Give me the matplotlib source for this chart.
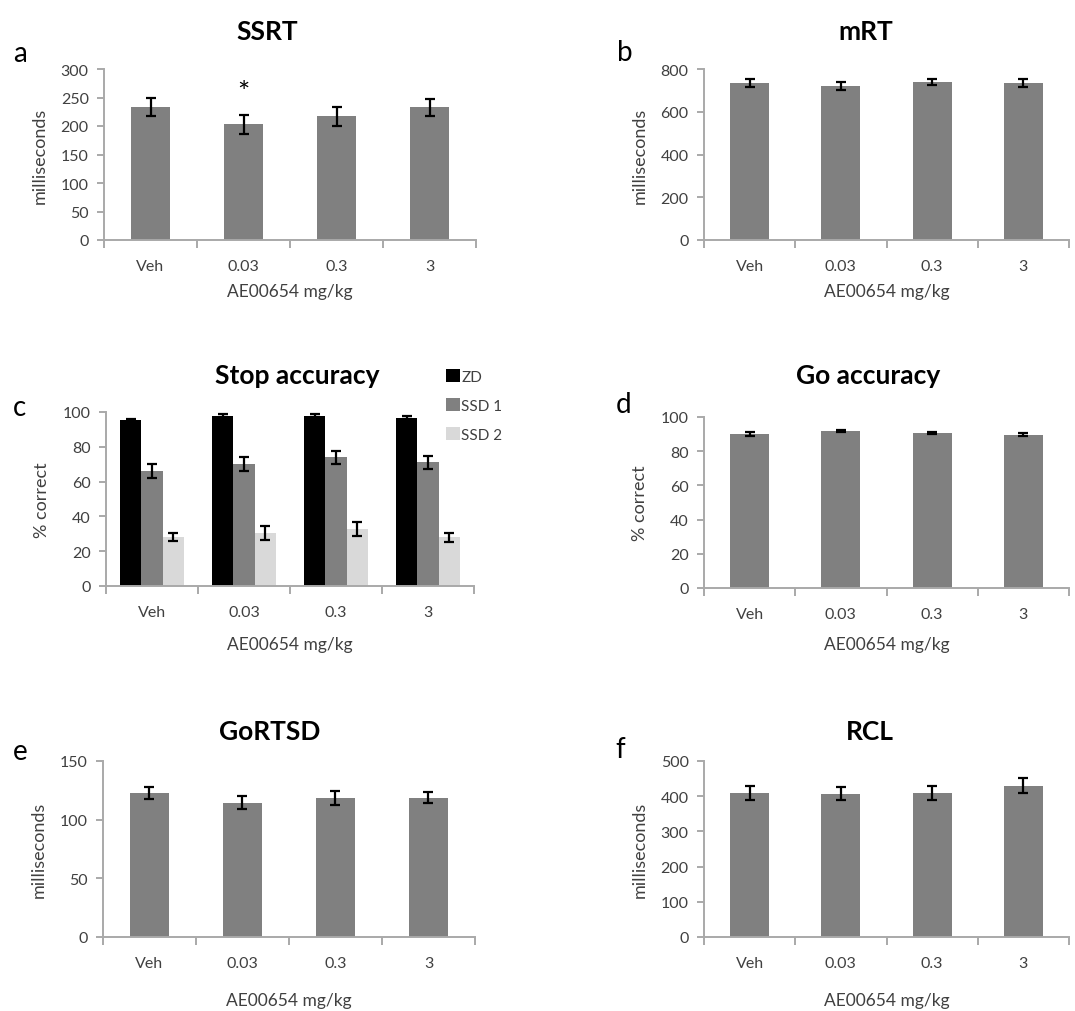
import matplotlib
matplotlib.use("Agg")
import matplotlib.pyplot as plt
from matplotlib.patches import Patch
import numpy as np

plt.rcParams['font.family'] = ['Lato', 'DejaVu Sans']

# Doses of AE00654 (mg/kg)
doses = ["Veh", "0.03", "0.3", "3"]
xlabel_text = "AE00654 mg/kg"

# a: stop-signal reaction time (ms)
ssrt_mean = [234, 203, 217, 233]
ssrt_sem = [16, 17, 17, 15]

# b: mean go reaction time (ms)
mrt_mean = [734, 720, 739, 734]
mrt_sem = [18, 20, 15, 18]

# c: stop accuracy (% correct) by stop-signal delay
stop_zd_mean = [95.2, 97.9, 97.9, 96.7]
stop_zd_sem = [1.0, 1.0, 1.0, 0.8]
stop_ssd1_mean = [66.0, 70.0, 74.0, 71.0]
stop_ssd1_sem = [4.0, 4.0, 3.8, 3.6]
stop_ssd2_mean = [28.0, 30.5, 32.5, 28.0]
stop_ssd2_sem = [2.2, 3.8, 4.0, 2.5]
stop_labels = ["ZD", "SSD 1", "SSD 2"]

# d: go accuracy (% correct)
go_mean = [90.1, 92.0, 90.5, 89.7]
go_sem = [1.0, 0.6, 0.7, 0.8]

# e: go reaction time standard deviation (ms)
gortsd_mean = [122.5, 114.5, 118.8, 118.8]
gortsd_sem = [5.0, 5.5, 6.0, 5.0]

# f: RCL (ms)
rcl_mean = [409, 407, 409, 430]
rcl_sem = [19, 18, 20, 21]

W, H = 1075, 1012
BAR_GREY = "#808080"
AXIS_GREY = "#a9a9a9"
TXT = "#404040"

fig = plt.figure(figsize=(W / 100, H / 100), dpi=100)


def make_axes(left, right, top, bottom):
    return fig.add_axes([left / W, 1 - bottom / H, (right - left) / W, (bottom - top) / H])


def style_axes(ax, ymax, ystep, ylabel, xlab_y):
    ax.set_xlim(-0.5, len(doses) - 0.5)
    ax.set_ylim(0, ymax)
    ax.set_yticks(np.arange(0, ymax + ystep / 2, ystep))
    ax.set_xticks(np.arange(len(doses)))
    ax.set_xticklabels(doses)
    ax.set_xticks(np.arange(len(doses) + 1) - 0.5, minor=True)
    for side in ("top", "right"):
        ax.spines[side].set_visible(False)
    for side in ("left", "bottom"):
        ax.spines[side].set_color(AXIS_GREY)
        ax.spines[side].set_linewidth(1.4)
    ax.tick_params(axis="x", which="major", length=0, pad=14, labelsize=11.5, labelcolor=TXT)
    ax.tick_params(axis="x", which="minor", length=6, width=1.4, color=AXIS_GREY, direction="out")
    ax.tick_params(axis="y", which="major", length=5, width=1.4, color=AXIS_GREY, pad=6,
                   labelsize=11.5, labelcolor=TXT)
    ax.set_ylabel(ylabel, fontsize=13, color=TXT, labelpad=9)
    bb = ax.get_position()
    fig.text((bb.x0 + bb.x1) / 2, 1 - xlab_y / H, xlabel_text, ha="center", va="center",
             fontsize=12.5, color=TXT)


def single_bars(ax, mean, sem):
    x = np.arange(len(doses))
    ax.bar(x, mean, width=0.43, color=BAR_GREY, zorder=2)
    ax.errorbar(x, mean, yerr=sem, fmt="none", ecolor="black", elinewidth=1.6,
                capsize=3.5, capthick=1.6, zorder=3)


def panel_title(x, y, text):
    fig.text(x / W, 1 - y / H, text, ha="center", va="center", fontsize=19,
             fontweight="bold", color="black")


def panel_letter(x, y, text):
    fig.text(x / W, 1 - y / H, text, ha="center", va="center", fontsize=20, color="black")


# a — SSRT
ax_a = make_axes(104, 476, 70, 241)
single_bars(ax_a, ssrt_mean, ssrt_sem)
style_axes(ax_a, 300, 50, "milliseconds", 292)
ax_a.text(1, 258, "*", ha="center", va="center", fontsize=21, color="black")
panel_title(267, 32, "SSRT")
panel_letter(20, 54, "a")

# b — mRT
ax_b = make_axes(704, 1069, 70, 241)
single_bars(ax_b, mrt_mean, mrt_sem)
style_axes(ax_b, 800, 200, "milliseconds", 292)
panel_title(866, 32, "mRT")
panel_letter(625, 53, "b")

# c — Stop accuracy
ax_c = make_axes(106, 474, 413, 587)
xc = np.arange(len(doses))
bw = 0.23
groups = [(stop_zd_mean, stop_zd_sem, "black"),
          (stop_ssd1_mean, stop_ssd1_sem, BAR_GREY),
          (stop_ssd2_mean, stop_ssd2_sem, "#d9d9d9")]
handles = []
for i, ((m, s, col), lab) in enumerate(zip(groups, stop_labels)):
    pos = xc + (i - 1) * bw
    ax_c.bar(pos, m, width=bw, color=col, zorder=2)
    ax_c.errorbar(pos, m, yerr=s, fmt="none", ecolor="black", elinewidth=1.6,
                  capsize=3.5, capthick=1.6, zorder=3)
    handles.append(Patch(facecolor=col, edgecolor="none", label=lab))
style_axes(ax_c, 100, 20, "% correct", 645)
fig.legend(handles=handles, loc="upper left", bbox_to_anchor=(440 / W, 1 - 364 / H),
           frameon=False, fontsize=11, handlelength=0.9, handleheight=0.9,
           handletextpad=0.1, labelspacing=0.95, labelcolor=TXT, borderaxespad=0)
panel_title(297, 376, "Stop accuracy")
panel_letter(20, 408, "c")

# d — Go accuracy
ax_d = make_axes(704, 1069, 418, 589)
single_bars(ax_d, go_mean, go_sem)
style_axes(ax_d, 100, 20, "% correct", 645)
panel_title(868, 376, "Go accuracy")
panel_letter(624, 405, "d")

# e — GoRTSD
ax_e = make_axes(103, 475, 762, 938)
single_bars(ax_e, gortsd_mean, gortsd_sem)
style_axes(ax_e, 150, 50, "milliseconds", 1001)
panel_title(270, 732, "GoRTSD")
panel_letter(20, 752, "e")

# f — RCL
ax_f = make_axes(704, 1069, 762, 938)
single_bars(ax_f, rcl_mean, rcl_sem)
style_axes(ax_f, 500, 100, "milliseconds", 1001)
panel_title(870, 732, "RCL")
panel_letter(620, 750, "f")

fig.savefig("out.png", dpi=100, facecolor="white")
